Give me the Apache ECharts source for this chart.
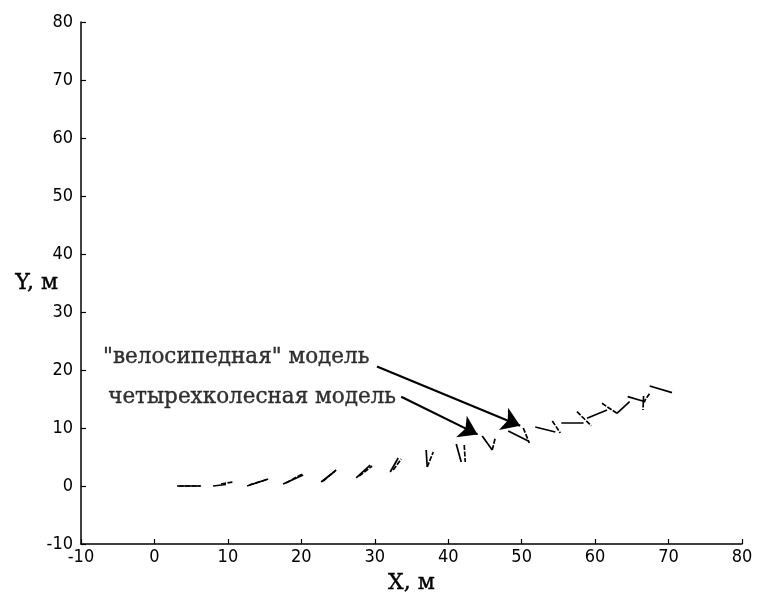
<!DOCTYPE html>
<html>
<head>
<meta charset="utf-8">
<script src="https://cdn.jsdelivr.net/npm/echarts@6/dist/echarts.min.js"></script>
<style>
html,body{margin:0;padding:0;background:#fff;}
#chart{width:757px;height:598px;}
</style>
</head>
<body>
<div id="chart"></div>
<script>
// Axis ranges / ticks
const xRange = [-10, 80];
const yRange = [-10, 80];
const tickStep = 10;
const xTitle = 'X, м';
const yTitle = 'Y, м';

// Heading segments [x0, y0, x1, y1] in metres
const bicycleSegments = [
  [3.08, 0.00, 6.35, 0.00],
  [7.98, 0.00, 9.75, 0.26],
  [12.62, 0.00, 15.48, 1.21],
  [17.52, 0.34, 20.25, 1.90],
  [22.70, 0.69, 24.60, 2.59],
  [27.47, 1.38, 29.37, 3.62],
  [32.10, 2.41, 33.19, 4.83],
  [37.00, 6.21, 37.14, 3.28],
  [41.09, 7.24, 41.77, 4.14],
  [44.63, 8.62, 45.99, 6.21],
  [48.17, 9.48, 50.90, 7.76],
  [51.85, 10.17, 54.58, 9.31],
  [55.40, 10.91, 58.43, 10.91],
  [58.90, 11.67, 61.62, 13.10],
  [62.97, 12.53, 64.70, 14.53],
  [64.43, 15.40, 66.84, 14.53],
  [67.43, 17.24, 70.47, 16.09]
];
const fourWheelSegments = [
  [3.30, 0.00, 6.20, 0.00],
  [9.07, 0.34, 10.71, 0.69],
  [12.89, 0.17, 15.34, 1.12],
  [17.93, 0.52, 20.11, 2.07],
  [22.97, 0.86, 24.74, 2.76],
  [27.87, 1.72, 29.64, 3.45],
  [32.51, 2.76, 33.60, 4.66],
  [37.14, 3.28, 37.96, 5.86],
  [42.18, 7.07, 42.32, 4.14],
  [45.99, 6.21, 46.40, 8.28],
  [50.22, 10.00, 51.04, 7.41],
  [54.17, 11.21, 55.26, 9.14],
  [57.53, 12.81, 59.48, 10.40],
  [60.94, 14.26, 62.97, 12.53],
  [66.60, 15.52, 66.52, 13.10],
  [66.52, 14.30, 67.40, 15.90]
];

// Annotations: label text, label anchor [x, y], arrow [x0, y0, x1, y1]
const annotationLabels = ['"велосипедная" модель', 'четырехколесная модель'];
const annotationAnchors = [[-7.0, 22.1], [-6.3, 15.3]];
const annotationArrows = [
  [30.3, 20.6, 49.8, 10.4],
  [33.6, 15.4, 44.0, 8.9]
];

const toLines = segs => segs.map(s => ({coords: [[s[0], s[1]], [s[2], s[3]]]}));

const chart = echarts.init(document.getElementById('chart'), null, {renderer: 'canvas'});

const serifText = {color: '#000', fontFamily: '"DejaVu Serif", serif', fontSize: 21.5,
  textBorderColor: '#000', textBorderWidth: 0.4};

const axisCommon = {
  type: 'value',
  interval: tickStep,
  nameMoveOverlap: false,
  axisLine: {show: true, onZero: false, lineStyle: {color: '#000', width: 1.5}},
  axisTick: {show: true, inside: true, length: 5, lineStyle: {color: '#000', width: 1.2}},
  splitLine: {show: false},
  axisLabel: {color: '#000', fontFamily: '"DejaVu Sans Condensed", "Liberation Sans Narrow", "Liberation Sans", sans-serif', fontSize: 18},
  nameTextStyle: Object.assign({}, serifText, {fontSize: 22})
};

chart.setOption({
  animation: false,
  backgroundColor: '#fff',
  grid: {left: 81, right: 15, top: 22, bottom: 54, containLabel: false, outerBoundsMode: 'none'},
  xAxis: Object.assign({}, axisCommon, {
    min: xRange[0], max: xRange[1],
    name: xTitle, nameLocation: 'middle', nameGap: 28,
    axisLabel: Object.assign({}, axisCommon.axisLabel, {margin: 4})
  }),
  yAxis: Object.assign({}, axisCommon, {
    min: yRange[0], max: yRange[1],
    name: yTitle, nameLocation: 'middle', nameGap: 23, nameRotate: 0,
    axisLabel: Object.assign({}, axisCommon.axisLabel, {margin: 8})
  }),
  series: [
    {
      type: 'lines', coordinateSystem: 'cartesian2d', silent: true,
      lineStyle: {color: '#000', width: 1.7, type: 'solid', opacity: 1},
      data: toLines(bicycleSegments)
    },
    {
      type: 'lines', coordinateSystem: 'cartesian2d', silent: true,
      lineStyle: {color: '#000', width: 1.7, type: [5, 1.5], opacity: 1},
      data: toLines(fourWheelSegments)
    },
    {
      type: 'lines', coordinateSystem: 'cartesian2d', silent: true,
      symbol: ['none', 'arrow'], symbolSize: 18,
      lineStyle: {color: '#000', width: 2.2, opacity: 1},
      itemStyle: {color: '#000'},
      data: toLines(annotationArrows)
    },
    {
      type: 'scatter', symbolSize: 0, silent: true,
      data: annotationAnchors.map((p, i) => ({value: p, name: annotationLabels[i]})),
      label: Object.assign({show: true, position: 'right', distance: 0,
        formatter: p => p.name}, serifText)
    }
  ]
});
</script>
</body>
</html>
